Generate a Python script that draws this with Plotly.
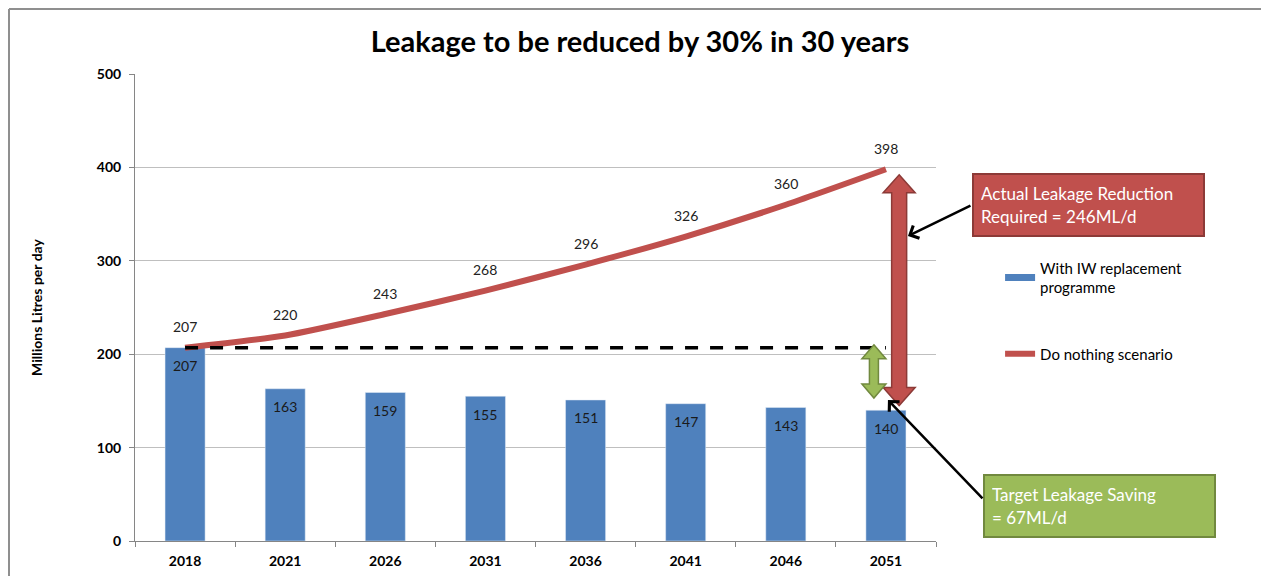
import plotly.graph_objects as go

years = ["2018", "2021", "2026", "2031", "2036", "2041", "2046", "2051"]
with_iw = [207, 163, 159, 155, 151, 147, 143, 140]
do_nothing = [207, 220, 243, 268, 296, 326, 360, 398]
y_ticks = [0, 100, 200, 300, 400, 500]

title_text = "Leakage to be reduced by 30% in 30 years"
y_title = "Millions Litres per day"
bar_name = "With IW replacement<br>programme"
line_name = "Do nothing scenario"
red_note = "Actual Leakage Reduction<br>Required = 246ML/d"
green_note = "Target Leakage Saving<br>= 67ML/d"

BLUE = "#4F81BD"
RED = "#C0504D"
RED_DARK = "#8C3A37"
GREEN = "#9BBB59"
GREEN_DARK = "#71893F"
FONT = "Lato"

xs = list(range(len(years)))
n = len(years)

# pixel geometry helpers (plot area: 801 px wide, 467 px tall)
PX_X = 1.0 / (801 / n)   # x units per px
PX_Y = 500.0 / 467       # y units per px

fig = go.Figure()

fig.add_trace(go.Bar(
    x=xs, y=with_iw, marker_color=BLUE, width=0.4,
    showlegend=False, hoverinfo="y",
))
fig.add_trace(go.Scatter(
    x=xs, y=do_nothing, mode="lines",
    line=dict(color=RED, width=6, shape="spline", smoothing=0.6),
    showlegend=False,
))
# legend entries
fig.add_trace(go.Scatter(x=[None], y=[None], mode="lines",
                         line=dict(color=BLUE, width=7),
                         name=bar_name, legendgroup="a"))
fig.add_trace(go.Scatter(x=[None], y=[None], mode="lines",
                         line=dict(color=RED, width=6),
                         name=line_name, legendgroup="b"))

annotations = []
for i, v in enumerate(do_nothing):
    annotations.append(dict(x=xs[i], y=v, text=str(v), showarrow=False,
                            yshift=21, font=dict(family=FONT, size=14, color="#222")))
for i, v in enumerate(with_iw):
    annotations.append(dict(x=xs[i], y=v, text=str(v), showarrow=False,
                            yshift=-18, font=dict(family=FONT, size=14, color="#1a1a1a")))

# callout boxes
annotations.append(dict(
    xref="paper", yref="paper", x=1.1904, y=0.7195, xanchor="center", yanchor="middle",
    text=red_note, showarrow=False, align="left", width=215, height=46,
    bgcolor=RED, bordercolor=RED_DARK, borderwidth=2, borderpad=7,
    font=dict(family=FONT, size=17, color="white")))
annotations.append(dict(
    xref="paper", yref="paper", x=1.2035, y=0.0739, xanchor="center", yanchor="middle",
    text=green_note, showarrow=False, align="left", width=215, height=46,
    bgcolor=GREEN, bordercolor=GREEN_DARK, borderwidth=2, borderpad=7,
    font=dict(family=FONT, size=17, color="white")))

# black pointer arrows
annotations.append(dict(x=7.22, y=326.6, ax=64, ay=-31, text="", showarrow=True,
                        arrowhead=4, arrowsize=1.1, arrowwidth=2.5, arrowcolor="black"))
annotations.append(dict(x=7.02, y=151, ax=96, ay=100, text="", showarrow=True,
                        arrowhead=4, arrowsize=1.1, arrowwidth=2.5, arrowcolor="black"))


def double_arrow(xc, y_top, y_bot, shaft_px, head_px, headlen_px):
    s = shaft_px * PX_X
    h = head_px * PX_X
    L = headlen_px * PX_Y
    pts = [
        (xc, y_top), (xc + h, y_top - L), (xc + s, y_top - L),
        (xc + s, y_bot + L), (xc + h, y_bot + L), (xc, y_bot),
        (xc - h, y_bot + L), (xc - s, y_bot + L), (xc - s, y_top - L),
        (xc - h, y_top - L),
    ]
    return "M " + " L ".join(f"{x:.4f},{y:.3f}" for x, y in pts) + " Z"


last = n - 1
BX0, BY1 = -0.1573, 1.139
shapes = [
    # dashed baseline at 2018 level
    dict(type="line", x0=xs[0], x1=xs[last], y0=with_iw[0], y1=with_iw[0],
         line=dict(color="black", width=3.5, dash="13px,12px"), layer="above"),
    dict(type="path", path=double_arrow(last + 0.132, do_nothing[-1] - 6, with_iw[-1] + 5, 7.5, 16, 18),
         fillcolor=RED, line=dict(color=RED_DARK, width=1.5), layer="above"),
    dict(type="path", path=double_arrow(last - 0.12, with_iw[0] + 3, with_iw[-1] + 13, 4.5, 12, 14),
         fillcolor=GREEN, line=dict(color=GREEN_DARK, width=1.5), layer="above"),
    # outer chart border (top and left edges visible in frame)
    dict(type="line", xref="paper", yref="paper", x0=BX0, x1=1.42, y0=BY1, y1=BY1,
         line=dict(color="#8f8f8f", width=2), layer="below"),
    dict(type="line", xref="paper", yref="paper", x0=BX0, x1=BX0, y0=-0.1, y1=BY1,
         line=dict(color="#8f8f8f", width=2), layer="below"),
]

fig.update_layout(
    width=1261, height=568,
    margin=dict(l=127, r=333, t=66, b=35, autoexpand=False),
    paper_bgcolor="white", plot_bgcolor="white",
    title=dict(text=f"<b>{title_text}</b>", x=(632 / 1261), xanchor="center",
               y=1 - 34 / 568, yanchor="middle",
               font=dict(family=FONT, size=29, color="black")),
    font=dict(family=FONT, color="black"),
    xaxis=dict(
        range=[-0.5, n - 0.5], tickvals=xs, ticktext=[f"<b>{y}</b>" for y in years],
        ticks="", showgrid=False, showline=True, linecolor="#868686", linewidth=1,
        tickfont=dict(family=FONT, size=14, color="black"), ticklabelstandoff=7,
        minor=dict(tickvals=[i - 0.5 for i in range(n + 1)], ticks="outside",
                   ticklen=5, tickcolor="#868686", showgrid=False),
        zeroline=False, fixedrange=True, automargin=False,
    ),
    yaxis=dict(
        range=[0, 500], tickvals=y_ticks, ticktext=[f"<b>{t}</b>" for t in y_ticks],
        showgrid=True, gridcolor="#BFBFBF", gridwidth=1,
        showline=True, linecolor="#868686", linewidth=1,
        ticks="outside", ticklen=5, tickcolor="#868686",
        tickfont=dict(family=FONT, size=14, color="black"), ticklabelstandoff=5,
        title=dict(text=f"<b>{y_title}</b>", font=dict(family=FONT, size=14, color="black"),
                   standoff=50),
        zeroline=False, automargin=False,
    ),
    legend=dict(x=1.08, y=0.62, xanchor="left", yanchor="top",
                font=dict(family=FONT, size=15, color="black"),
                tracegroupgap=44, itemwidth=30, bgcolor="rgba(0,0,0,0)"),
    shapes=shapes,
    annotations=annotations,
    bargap=0.6,
)

fig.write_html("out.html", config={"displayModeBar": False})
